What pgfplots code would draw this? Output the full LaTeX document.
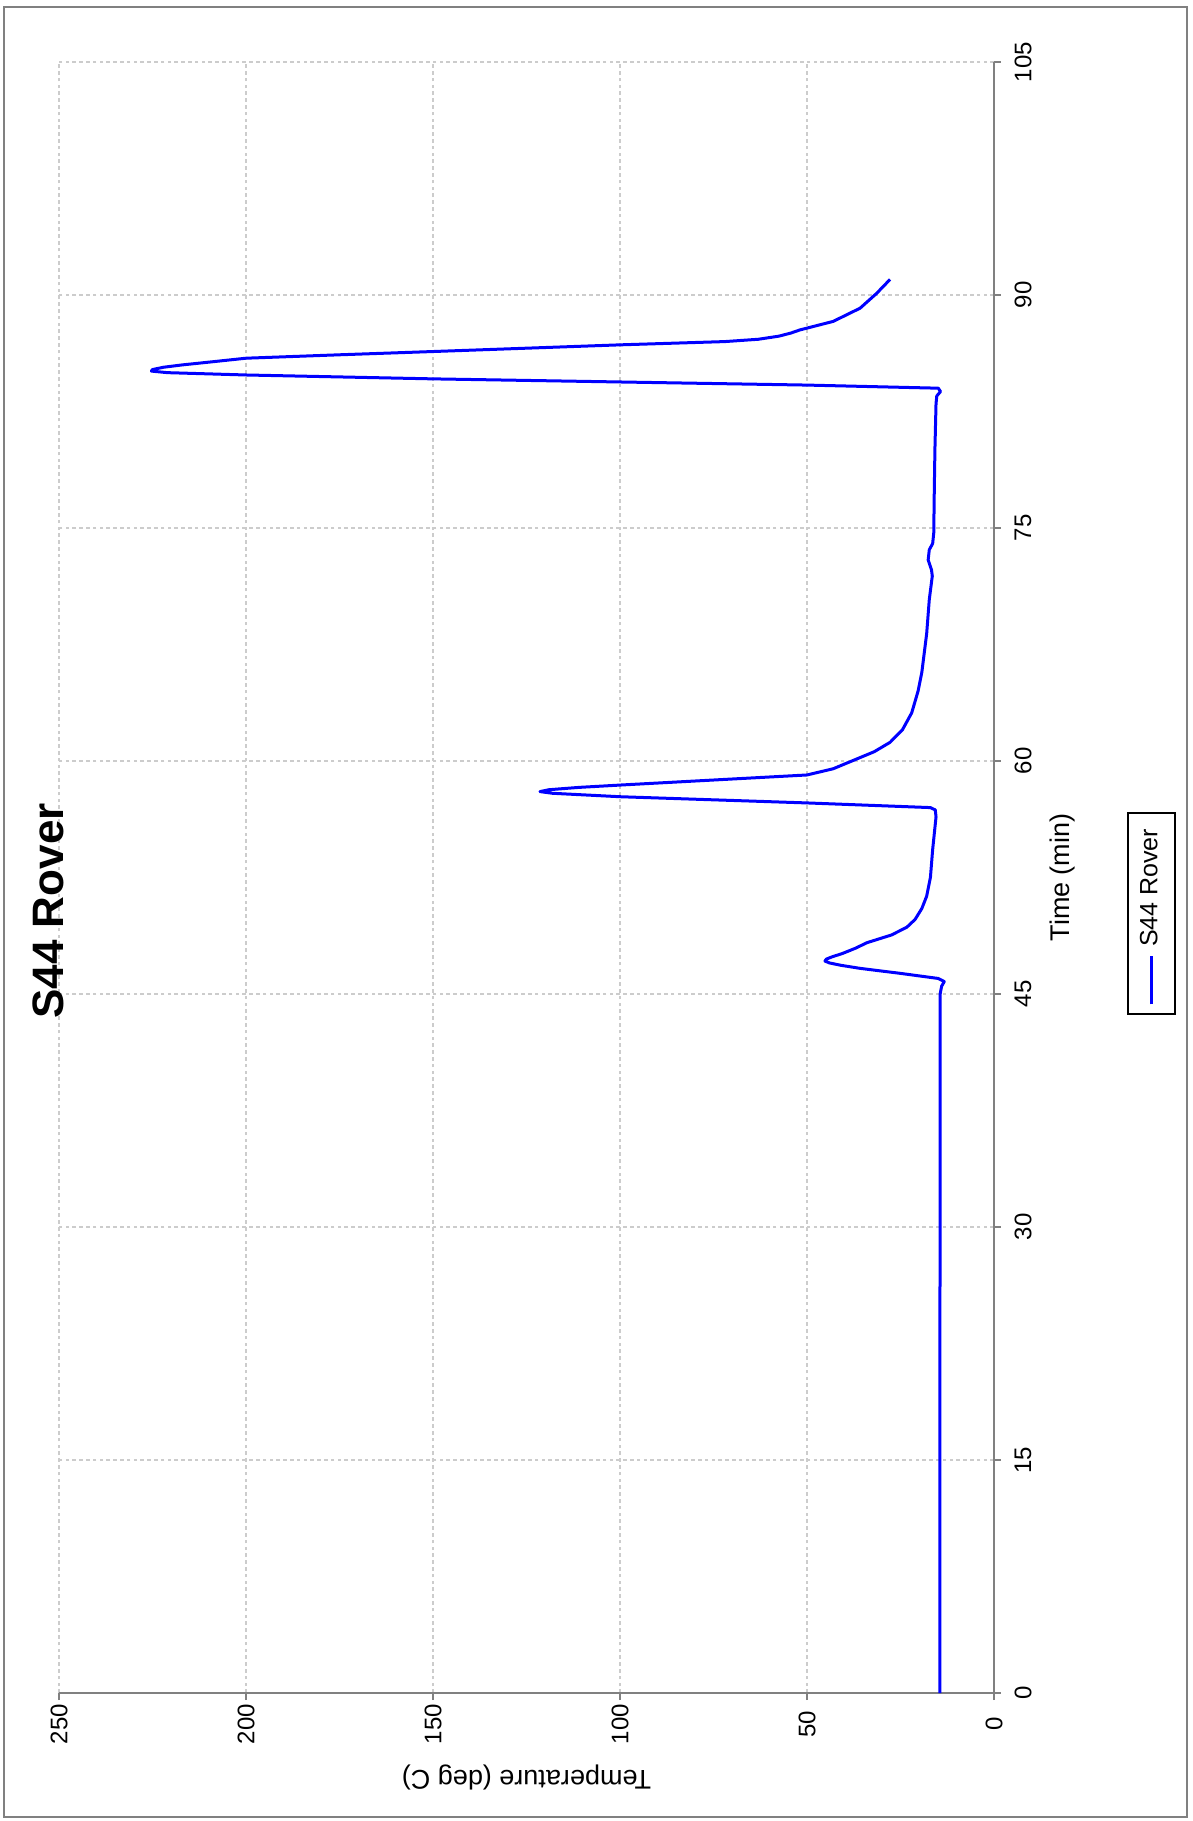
\documentclass[border=0pt]{standalone}
\usepackage{pgfplots}
\pgfplotsset{compat=1.18}
\usepackage{fontspec}
\setmainfont{Liberation Sans}

\pgfplotstableread{
time temp
0     14.5
10    14.5
20    14.5
30    14.4
40    14.4
45    14.4
45.5  14.0
45.8  13.3
46.0  14.9
46.33 25.1
46.65 35.8
46.85 41.0
47.0  44.0
47.12 45.2
47.25 44.8
47.4  43.2
47.6  40.6
47.95 37.0
48.3  34.0
48.8  27.4
49.3  23.3
49.8  21.1
50.5  19.3
51.3  18.0
52.5  17.0
54.3  16.4
56.4  15.5
56.85 15.7
57.0  17.0
57.3  50
57.7  100
57.92 118
58.03 121.4
58.15 119
58.3  111
58.45 100
59.1  50
59.5  43
60.0  38
60.6  32
61.2  27.8
62.0  24.5
63.1  22.0
64.5  20.3
65.7  19.3
68.2  18.0
70.4  17.3
71.9  16.5
72.3  16.7
72.95 17.6
73.6  17.3
74.0  16.4
74.7  16.1
76.8  16.0
80    15.8
83.0  15.5
83.5  15.3
83.78 14.3
84.0  14.9
84.2  50
84.4  100
84.6  150
84.85 200
85.0  221
85.1  225.3
85.2  225
85.35 222
85.5  217
85.7  209
85.93 200
86.15 175
86.36 150
86.79 100
87.0  72
87.15 63
87.35 57.5
87.55 54.3
87.75 51.9
88.3  43.0
89.15 35.8
90.1  31.4
91.0  27.8
}\rover

\begin{document}
\begin{tikzpicture}[rotate=90, transform shape]
\path (-32pt,-49.5pt) rectangle (423.25pt,248.5pt);
\begin{axis}[
  at={(0,0)}, anchor=south west,
  scale only axis, width=407.75pt, height=233.75pt,
  xmin=0, xmax=105, ymin=0, ymax=250,
  xtick={0,15,...,105}, ytick={0,50,...,250},
  axis x line*=bottom, axis y line*=left,
  axis line style={-, draw=gray, line width=0.6pt},
  tick align=outside, major tick length=1.75pt,
  tick style={draw=gray, line width=0.6pt},
  grid=major,
  major grid style={draw=gray!40, line width=0.3pt, dash pattern=on 0.9pt off 0.8pt},
  /pgf/number format/assume math mode=true,
  ticklabel style={font=\fontsize{6}{7}\selectfont},
  xticklabel style={anchor=center, yshift=-5.5pt},
  yticklabel style={anchor=center, xshift=-6pt},
  xlabel={Time (min)},
  ylabel={Temperature (deg C)},
  label style={font=\fontsize{6.75}{8}\selectfont},
  xlabel style={at={(axis description cs:0.5,-0.0738)}, anchor=center},
  ylabel style={at={(axis description cs:-0.0515,0.5)}, anchor=center, rotate=0},
  title={S44 Rover},
  every axis title shift=0pt,
  title style={at={(axis description cs:0.4795,1.0118)}, anchor=center,
    font=\fontsize{11}{13}\selectfont\bfseries},
  legend style={at={(axis description cs:0.478,-0.1686)}, anchor=center,
    draw=black, line width=0.5pt, font=\fontsize{6.25}{7.5}\selectfont,
    inner xsep=2pt, inner ysep=1pt},
  legend image code/.code={\draw[#1, line width=0.75pt] (0pt,0pt) -- (12pt,0pt);},
]
\addplot[blue, line width=0.75pt, line join=round, mark=none] table[x=time, y=temp] {\rover};
\legend{S44 Rover}
\end{axis}
\draw[gray, line width=0.5pt] (-31pt,-48.25pt) rectangle (421.5pt,247.5pt);
\end{tikzpicture}
\end{document}
